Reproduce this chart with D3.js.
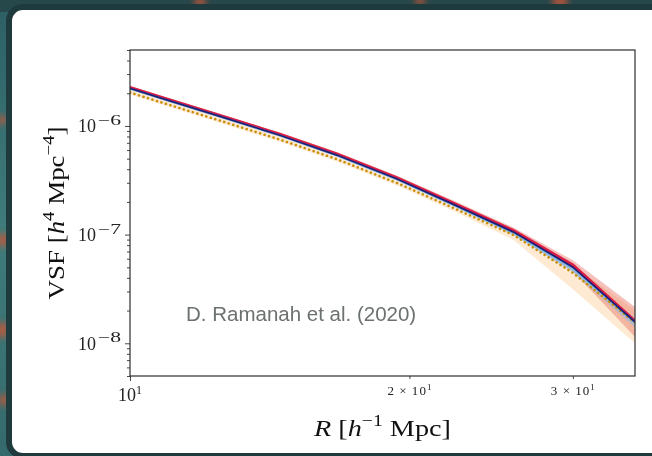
<!DOCTYPE html>
<html lang="en">
  <head>
    <meta charset="utf-8">
    <title>VSF</title>
    <script type="text/javascript" src="https://cdn.jsdelivr.net/npm/d3@7"></script>
    <style type="text/css">
      html, body {
        margin: 0;
        background: #fff;
        overflow: hidden;
      }
      svg {
        display: block;
      }
    </style>
  </head>
  <body>

    <script type="text/javascript">

      //Width and height
      var w = 652;
      var h = 456;
      var plot = { left: 130, right: 635, top: 50, bottom: 376 };

      //Data (R in h^-1 Mpc, VSF in h^4 Mpc^-4)
      var radius    = [10, 10.8, 12.5, 14.5, 16.7, 19.4, 22.4, 25.9, 30.0, 35.0];
      var vsfNavy   = [2.215e-6, 1.80e-6, 1.224e-6, 8.21e-7, 5.40e-7, 3.25e-7, 1.87e-7, 1.055e-7, 5.02e-8, 1.57e-8];
      var vsfRed    = [2.26e-6, 1.84e-6, 1.25e-6, 8.38e-7, 5.52e-7, 3.33e-7, 1.92e-7, 1.09e-7, 5.25e-8, 1.60e-8];
      var vsfBlue   = [2.20e-6, 1.79e-6, 1.215e-6, 8.15e-7, 5.35e-7, 3.21e-7, 1.84e-7, 1.03e-7, 4.80e-8, 1.54e-8];
      var vsfOrange = [2.03e-6, 1.65e-6, 1.12e-6, 7.5e-7, 4.95e-7, 2.98e-7, 1.73e-7, 9.9e-8, 4.45e-8, 1.56e-8];

      var redLo   = [2.18e-6, 1.77e-6, 1.20e-6, 8.05e-7, 5.3e-7, 3.19e-7, 1.82e-7, 1.01e-7, 4.6e-8, 1.14e-8];
      var redHi   = [2.33e-6, 1.90e-6, 1.29e-6, 8.7e-7, 5.75e-7, 3.48e-7, 2.03e-7, 1.16e-7, 5.8e-8, 2.16e-8];
      var peachLo = [1.95e-6, 1.58e-6, 1.07e-6, 7.15e-7, 4.7e-7, 2.83e-7, 1.62e-7, 8.9e-8, 3.15e-8, 1.0e-8];
      var peachHi = [2.25e-6, 1.83e-6, 1.245e-6, 8.35e-7, 5.5e-7, 3.3e-7, 1.9e-7, 1.07e-7, 5.2e-8, 2.01e-8];
      var blueLo  = [2.17e-6, 1.76e-6, 1.195e-6, 8.0e-7, 5.25e-7, 3.14e-7, 1.79e-7, 9.9e-8, 4.5e-8, 1.4e-8];
      var blueHi  = [2.23e-6, 1.82e-6, 1.235e-6, 8.3e-7, 5.45e-7, 3.28e-7, 1.89e-7, 1.07e-7, 5.1e-8, 1.7e-8];

      //Ticks
      var xMajor = [10];
      var xMinor = [20, 30];
      var xMinorLabels = ["2", "3"];
      var yMajor = [1e-8, 1e-7, 1e-6];
      var yMajorExp = ["\u22128", "\u22127", "\u22126"];
      var yMinor = [5e-9, 6e-9, 7e-9, 8e-9, 9e-9,
                    2e-8, 3e-8, 4e-8, 5e-8, 6e-8, 7e-8, 8e-8, 9e-8,
                    2e-7, 3e-7, 4e-7, 5e-7, 6e-7, 7e-7, 8e-7, 9e-7,
                    2e-6, 3e-6, 4e-6, 5e-6];

      var xScale = d3.scaleLog()
              .domain([10, 35])
              .range([plot.left, plot.right]);

      var yScale = d3.scaleLog()
              .domain([5e-9, 5e-6])
              .range([plot.bottom, plot.top]);

      //Create SVG element
      var svg = d3.select("body")
            .append("svg")
            .attr("width", w)
            .attr("height", h);

      //Textured backdrop strips (left and top edge)
      var defs = svg.append("defs");
      var grad = defs.append("linearGradient").attr("id", "bg").attr("x1", 0).attr("y1", 0).attr("x2", 0).attr("y2", 1);
      grad.append("stop").attr("offset", 0).attr("stop-color", "#2c5f64");
      grad.append("stop").attr("offset", 0.5).attr("stop-color", "#3f7c7b");
      grad.append("stop").attr("offset", 1).attr("stop-color", "#356a6c");
      defs.append("filter").attr("id", "soft").append("feGaussianBlur").attr("stdDeviation", 3);

      svg.append("rect").attr("width", 14).attr("height", h).attr("fill", "url(#bg)");
      svg.append("rect").attr("width", w).attr("height", 12).attr("fill", "#27484b");
      var spots = [[3, 240, 7], [2, 330, 8], [4, 400, 6], [2, 120, 5], [200, 2, 6], [420, 1, 5], [560, 2, 8]];
      svg.append("g").attr("filter", "url(#soft)")
         .selectAll("circle").data(spots).enter().append("circle")
         .attr("cx", function(d) { return d[0]; })
         .attr("cy", function(d) { return d[1]; })
         .attr("r", function(d) { return d[2]; })
         .attr("fill", "#c2553a").attr("opacity", 0.8);

      //White card with dark rounded border (runs off the right edge)
      svg.append("rect")
         .attr("x", 9).attr("y", 7)
         .attr("width", 720).attr("height", 449)
         .attr("rx", 14).attr("ry", 14)
         .attr("fill", "#fff")
         .attr("stroke", "#1f3a3d")
         .attr("stroke-width", 6);

      svg.append("clipPath")
         .attr("id", "clip")
         .append("rect")
         .attr("x", plot.left)
         .attr("y", plot.top)
         .attr("width", plot.right - plot.left)
         .attr("height", plot.bottom - plot.top);

      var g = svg.append("g").attr("clip-path", "url(#clip)");

      function band(lo, hi) {
        return d3.area()
          .x(function(d, i) { return xScale(radius[i]); })
          .y0(function(d, i) { return yScale(lo[i]); })
          .y1(function(d, i) { return yScale(hi[i]); })(radius);
      }
      function line(vals) {
        return d3.line()
          .x(function(d, i) { return xScale(radius[i]); })
          .y(function(d, i) { return yScale(vals[i]); })(radius);
      }

      //Bands
      g.append("path").attr("d", band(peachLo, peachHi)).attr("fill", "rgba(253, 195, 130, 0.35)");
      g.append("path").attr("d", band(redLo, redHi)).attr("fill", "rgba(228, 95, 75, 0.38)");
      g.append("path").attr("d", band(blueLo, blueHi)).attr("fill", "rgba(125, 185, 235, 0.5)");

      //Lines
      g.append("path").attr("d", line(vsfRed))
         .attr("fill", "none").attr("stroke", "#dc1e46").attr("stroke-width", 3);
      g.append("path").attr("d", line(vsfBlue))
         .attr("fill", "none").attr("stroke", "#86bde8").attr("stroke-width", 2);
      g.append("path").attr("d", line(vsfOrange))
         .attr("fill", "none").attr("stroke", "#c98f0a").attr("stroke-width", 2.6)
         .attr("stroke-linecap", "round").attr("stroke-dasharray", "0.1,4.6");
      g.append("path").attr("d", line(vsfNavy))
         .attr("fill", "none").attr("stroke", "#1c1f78").attr("stroke-width", 1.8);

      //Axes (ticks only, labels drawn as math text)
      var axisStyle = function(sel) {
        sel.select(".domain").remove();
        sel.selectAll("line").attr("stroke", "#333").attr("stroke-width", 0.9);
        sel.selectAll("text").remove();
      };

      svg.append("g").attr("transform", "translate(0," + plot.bottom + ")")
         .call(d3.axisBottom(xScale).tickValues(xMajor).tickSize(5)).call(axisStyle);
      svg.append("g").attr("transform", "translate(0," + plot.bottom + ")")
         .call(d3.axisBottom(xScale).tickValues(xMinor).tickSize(3)).call(axisStyle);
      svg.append("g").attr("transform", "translate(" + plot.left + ",0)")
         .call(d3.axisLeft(yScale).tickValues(yMajor).tickSize(5)).call(axisStyle);
      svg.append("g").attr("transform", "translate(" + plot.left + ",0)")
         .call(d3.axisLeft(yScale).tickValues(yMinor).tickSize(3)).call(axisStyle);

      //Frame
      svg.append("rect")
         .attr("x", plot.left).attr("y", plot.top)
         .attr("width", plot.right - plot.left).attr("height", plot.bottom - plot.top)
         .attr("fill", "none").attr("stroke", "#2e2e2e").attr("stroke-width", 1.2);

      var serif = "'Liberation Serif', 'Times New Roman', serif";

      //Y tick labels: "10" plus a wide superscript exponent
      yMajor.forEach(function(v, i) {
        var y = yScale(v);
        svg.append("text")
           .attr("x", plot.left - 9).attr("y", y - 1)
           .attr("text-anchor", "end")
           .attr("font-family", serif).attr("font-size", 14).attr("fill", "#222")
           .attr("textLength", 23).attr("lengthAdjust", "spacingAndGlyphs")
           .text(yMajorExp[i]);
        svg.append("text")
           .attr("x", plot.left - 34).attr("y", y + 6.5)
           .attr("text-anchor", "end")
           .attr("font-family", serif).attr("font-size", 18).attr("fill", "#222")
           .text("10");
      });

      //X tick labels
      var t10 = svg.append("text")
         .attr("x", xScale(10)).attr("y", plot.bottom + 25)
         .attr("text-anchor", "middle")
         .attr("font-family", serif).attr("font-size", 18).attr("fill", "#222");
      t10.append("tspan").text("10");
      t10.append("tspan").attr("dy", -7).attr("font-size", 12).text("1");

      xMinor.forEach(function(v, i) {
        var t = svg.append("text")
           .attr("x", xScale(v)).attr("y", plot.bottom + 19)
           .attr("text-anchor", "middle")
           .attr("font-family", serif).attr("font-size", 13).attr("fill", "#222")
           .attr("textLength", 44).attr("lengthAdjust", "spacing");
        t.append("tspan").text(xMinorLabels[i] + " \u00d7 10");
        t.append("tspan").attr("dy", -5).attr("font-size", 9).text("1");
      });

      //X axis label
      var xl = svg.append("text")
         .attr("x", (plot.left + plot.right) / 2).attr("y", 436)
         .attr("text-anchor", "middle")
         .attr("font-family", serif).attr("font-size", 23).attr("fill", "#111")
         .attr("textLength", 137).attr("lengthAdjust", "spacingAndGlyphs");
      xl.append("tspan").attr("font-style", "italic").text("R");
      xl.append("tspan").text(" [");
      xl.append("tspan").attr("font-style", "italic").text("h");
      xl.append("tspan").attr("dy", -10).attr("font-size", 16).text("\u22121");
      xl.append("tspan").attr("dy", 10).text(" Mpc]");

      //Y axis label
      var yl = svg.append("text")
         .attr("transform", "translate(64," + ((plot.top + plot.bottom) / 2) + ") rotate(-90)")
         .attr("text-anchor", "middle")
         .attr("font-family", serif).attr("font-size", 23).attr("fill", "#111")
         .attr("textLength", 173).attr("lengthAdjust", "spacingAndGlyphs");
      yl.append("tspan").text("VSF [");
      yl.append("tspan").attr("font-style", "italic").text("h");
      yl.append("tspan").attr("dy", -10).attr("font-size", 16).text("4");
      yl.append("tspan").attr("dy", 10).text(" Mpc");
      yl.append("tspan").attr("dy", -10).attr("font-size", 16).text("\u22124");
      yl.append("tspan").attr("dy", 10).text("]");

      //Credit
      svg.append("text")
         .attr("x", 186).attr("y", 321)
         .attr("font-family", "'Liberation Sans', Arial, sans-serif")
         .attr("font-size", 20.5).attr("fill", "#6b716e")
         .text("D. Ramanah et al. (2020)");

    </script>
  </body>
</html>
